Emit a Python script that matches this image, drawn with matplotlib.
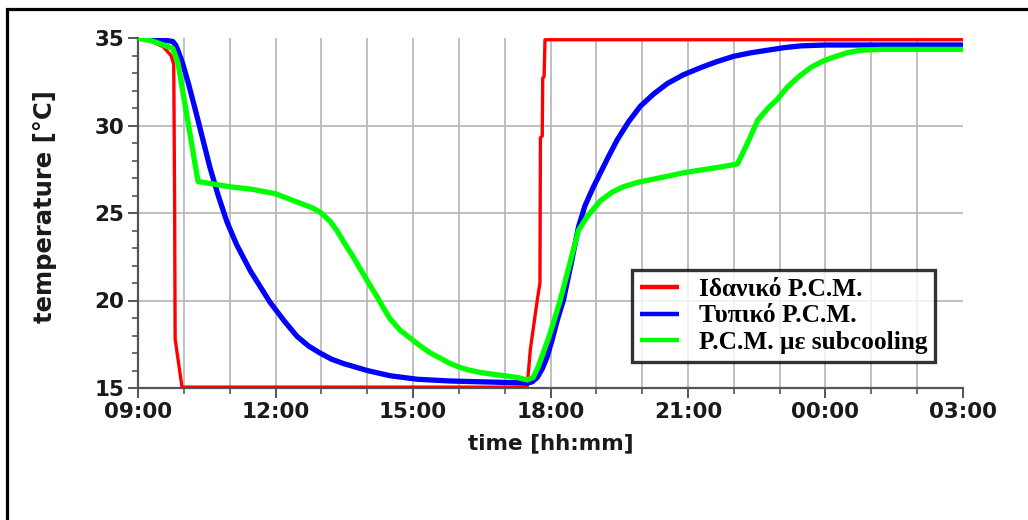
import matplotlib
matplotlib.use("Agg")
import matplotlib.pyplot as plt
from matplotlib.patches import Rectangle
from matplotlib.ticker import MultipleLocator, FixedLocator

# ---- data (hours after 09:00, temperature in °C) ----
ideal_t = [0, 0.30, 0.55, 0.72, 0.78, 0.80, 0.81, 0.96, 8.49, 8.56, 8.71, 8.77, 8.78, 8.82, 8.83, 8.86, 8.88, 18]
ideal_T = [35, 34.8, 34.5, 34.0, 33.5, 25.0, 17.8, 15.05, 15.05, 17.2, 20.0, 21.0, 29.3, 29.4, 32.7, 32.8, 34.9, 34.9]

typical_t = [0, 0.40, 0.76, 0.82, 0.87, 0.98, 1.10, 1.29, 1.57, 1.75, 1.94, 2.15, 2.45, 2.88, 3.20, 3.47, 3.72,
             3.97, 4.22, 4.48, 4.74, 5.00, 5.25, 5.50, 5.80, 6.09, 6.45, 6.81, 7.53, 8.28, 8.49,
             8.60, 8.71, 8.82, 8.93, 9.04, 9.15, 9.28, 9.45, 9.61, 9.75, 9.92, 10.09, 10.28, 10.46,
             10.70, 10.96, 11.25, 11.55, 11.90, 12.27, 12.63, 12.99, 13.36, 13.73, 14.10, 14.46, 15.0, 18]
typical_T = [35, 34.95, 34.8, 34.6, 34.3, 33.5, 32.4, 30.5, 27.6, 26.0, 24.5, 23.2, 21.7, 19.9, 18.8, 17.95, 17.4,
             17.0, 16.65, 16.4, 16.2, 16.0, 15.85, 15.7, 15.6, 15.5, 15.45, 15.4, 15.35, 15.3, 15.28,
             15.35, 15.6, 16.1, 16.8, 17.8, 18.9, 20.0, 22.1, 24.2, 25.4, 26.4, 27.3, 28.3, 29.2,
             30.2, 31.1, 31.8, 32.4, 32.9, 33.3, 33.65, 33.95, 34.15, 34.3, 34.45, 34.55, 34.6, 34.6]

subcool_t = [0, 0.35, 0.76, 0.87, 1.31, 2.0, 2.5, 3.0, 3.25, 3.5, 3.8, 4.0, 4.2, 4.35, 4.5, 4.67, 4.85,
             5.03, 5.22, 5.36, 5.50, 5.72, 5.94, 6.16, 6.38, 6.60, 6.81, 7.00, 7.18, 7.45, 7.69, 8.0,
             8.28, 8.49, 8.62, 8.73, 8.84, 8.95, 9.06, 9.21, 9.41, 9.61, 9.80, 10.09, 10.35, 10.59,
             10.90, 11.18, 11.55, 11.90, 12.27, 12.64, 13.08, 13.30, 13.52, 13.75, 13.95, 14.17,
             14.42, 14.67, 14.92, 15.17, 15.46, 15.76, 16.2, 18]
subcool_T = [35, 34.8, 34.4, 33.6, 26.8, 26.5, 26.35, 26.1, 25.85, 25.6, 25.3, 25.0, 24.5, 23.95, 23.3, 22.6, 21.8,
             21.0, 20.2, 19.55, 18.95, 18.3, 17.85, 17.4, 17.0, 16.7, 16.4, 16.2, 16.05, 15.9, 15.8, 15.7,
             15.6, 15.46, 15.6, 16.2, 17.0, 17.8, 18.7, 20.0, 22.0, 24.0, 24.8, 25.7, 26.2, 26.5,
             26.75, 26.9, 27.1, 27.3, 27.45, 27.6, 27.8, 29.0, 30.3, 31.0, 31.5, 32.2,
             32.8, 33.3, 33.65, 33.9, 34.15, 34.3, 34.35, 34.35]

series_labels = ["Ιδανικό P.C.M.", "Τυπικό P.C.M.", "P.C.M. με subcooling"]
series_colors = ["#ff0000", "#0000ff", "#00ff00"]

major_ticks = [0, 3, 6, 9, 12, 15, 18]
tick_labels = ["09:00", "12:00", "15:00", "18:00", "21:00", "00:00", "03:00"]
y_ticks = [15, 20, 25, 30, 35]

# ---- figure ----
W, H = 1028, 520
fig = plt.figure(figsize=(W / 100, H / 100), dpi=100)
fig.patch.set_facecolor("white")

left, right, bottom, top = 138, 963, 388, 38
ax = fig.add_axes([left / W, 1 - bottom / H, (right - left) / W, (bottom - top) / H])

# grid
for h in range(1, 18):
    ax.axvline(h, color="#bbbbbb", lw=1.3, zorder=0)
for y in [20, 25, 30]:
    ax.axhline(y, color="#bbbbbb", lw=1.3, zorder=0)

widths = [2.4, 3.8, 3.8]
zorders = [3, 4, 5]
lines = []
for t, T, c, lab, lw, z in zip([ideal_t, typical_t, subcool_t], [ideal_T, typical_T, subcool_T],
                               series_colors, series_labels, widths, zorders):
    ln, = ax.plot(t, T, color=c, lw=lw, label=lab, solid_joinstyle="round",
                  solid_capstyle="butt", zorder=z)
    lines.append(ln)

ax.set_xlim(0, 18)
ax.set_ylim(15, 35)
ax.xaxis.set_major_locator(FixedLocator(major_ticks))
ax.set_xticklabels(tick_labels)
ax.xaxis.set_minor_locator(MultipleLocator(1))
ax.yaxis.set_major_locator(FixedLocator(y_ticks))
ax.yaxis.set_minor_locator(MultipleLocator(1))

for s in ["top", "right"]:
    ax.spines[s].set_visible(False)
for s in ["left", "bottom"]:
    ax.spines[s].set_color("#555555")
    ax.spines[s].set_linewidth(1.6)

ax.tick_params(axis="both", which="major", length=7, width=1.4, color="#555555",
               labelsize=15.5, labelcolor="#1a1a1a", pad=3)
ax.tick_params(axis="both", which="minor", length=4, width=1.2, color="#555555")
for lbl in ax.get_xticklabels() + ax.get_yticklabels():
    lbl.set_fontweight("bold")
    lbl.set_family("DejaVu Sans")

ax.set_xlabel("time [hh:mm]", fontsize=15.5, fontweight="bold", family="DejaVu Sans",
              color="#1a1a1a", labelpad=8)
ax.set_ylabel("temperature [°C]", fontsize=17.5, fontweight="bold", family="DejaVu Sans",
              color="#1a1a1a")
ax.yaxis.set_label_coords((57 - left) / (right - left), (bottom - 207) / (bottom - top))

leg = ax.legend(handles=lines, loc="upper left",
                bbox_to_anchor=(632 / W, 1 - 270 / H), bbox_transform=fig.transFigure,
                prop=dict(family="Liberation Serif", weight="bold", size=18.3),
                frameon=True, fancybox=False, borderaxespad=0, borderpad=0.3,
                labelspacing=0.15, handlelength=1.53, handletextpad=0.8)
leg.get_frame().set_edgecolor("black")
leg.get_frame().set_linewidth(2.4)
leg.set_zorder(10)
for lh in leg.get_lines():
    lh.set_linewidth(3.2)

# outer frame (cut at right and bottom in the reference)
fig.patches.append(Rectangle((7 / W, -0.2), 1.2, 1 - 9 / H + 0.2, transform=fig.transFigure,
                             fill=False, edgecolor="black", lw=2.3, clip_on=False))

fig.savefig("out.png", dpi=100)
